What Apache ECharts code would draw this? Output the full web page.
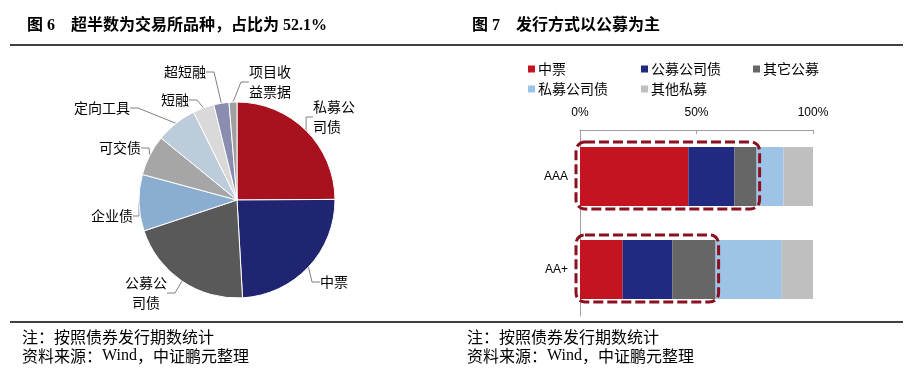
<!DOCTYPE html>
<html><head><meta charset="utf-8">
<script src="https://cdn.jsdelivr.net/npm/echarts@6/dist/echarts.min.js"></script>
<style>html,body{margin:0;padding:0;background:#fff}#c{width:910px;height:371px}</style>
</head><body><div id="c"></div>
<script>
// Pie (图6)
const pieNames = ['私募公司债','中票','公募公司债','企业债','可交债','定向工具','短融','超短融','项目收益票据'];
const pieLabels = ['私募公\n司债','中票','公募公\n司债','企业债','可交债','定向工具','短融','超短融','项目收\n益票据'];
const pieValues = [24.9, 24.2, 20.8, 9.3, 6.7, 6.8, 3.5, 2.5, 1.3];
const pieColors = ['#A8121F','#1F2570','#595959','#8AADD0','#A6A6A6','#BDCCDB','#D9D9D9','#8A8CB0','#A0A0A0'];

// Stacked bars (图7)
const ratings = ['AAA','AA+'];
const barNames = ['中票','公募公司债','其它公募','私募公司债','其他私募'];
const zhongpiao = [46.5, 18.3];
const gongmuGongsizhai = [19.7, 21.3];
const qitaGongmu = [9.6, 18.6];
const simuGongsizhai = [11.5, 28.4];
const qitaSimu = [12.7, 13.4];
const barColors = ['#C41420','#1F2A80','#666666','#9DC3E6','#BFBFBF'];
const xTicks = [0, 50, 100];

const cjk = '"Noto Sans CJK SC", sans-serif';
const serif = '"Liberation Serif", "Noto Sans CJK SC", serif';

// label placement (layout only)
const pieLabelPlace = [
  {x:313, y:117, align:'left'},
  {x:320, y:282, align:'left'},
  {x:146, y:293, align:'center'},
  {x:133, y:216, align:'right'},
  {x:141, y:148, align:'right'},
  {x:130, y:108, align:'right'},
  {x:189, y:100, align:'right'},
  {x:206, y:72,  align:'right'},
  {x:249, y:82,  align:'left'}
];

const chart = echarts.init(document.getElementById('c'), null, {renderer:'canvas'});
const barSeriesData = [zhongpiao, gongmuGongsizhai, qitaGongmu, simuGongsizhai, qitaSimu];

const noteStyle = {fontFamily:cjk, fontSize:16, fontWeight:'normal', color:'#000',
  rich:{s:{fontFamily:serif, fontSize:16, color:'#000'}}};

const option = {
  animation: false,
  backgroundColor: '#fff',
  title: [
    {text:'图 6    超半数为交易所品种，占比为 52.1%', left:22, top:13,
     textStyle:{fontFamily:serif, fontSize:16, fontWeight:'bold', color:'#000'}},
    {text:'图 7    发行方式以公募为主', left:467, top:13,
     textStyle:{fontFamily:serif, fontSize:16, fontWeight:'bold', color:'#000'}},
    {text:'注：按照债券发行期数统计', left:22, top:329, padding:0, textStyle:noteStyle},
    {text:'资料来源：{s|Wind}，中证鹏元整理', left:22, top:348, padding:0, textStyle:noteStyle},
    {text:'注：按照债券发行期数统计', left:467, top:329, padding:0, textStyle:noteStyle},
    {text:'资料来源：{s|Wind}，中证鹏元整理', left:467, top:348, padding:0, textStyle:noteStyle}
  ],
  legend: {
    left: 523, top: 54, width: 320, itemWidth: 7, itemHeight: 7, itemGap: 0,
    icon: 'rect',
    textStyle: {fontFamily: cjk, fontSize: 14, color:'#000', lineHeight: 20, padding:[0,0,0,-2]},
    data: barNames.map((n,i)=>({name:n, textStyle:{width: [103,102,70,103,102][i]}}))
  },
  grid: {left:580, right:97, top:130, bottom:55},
  xAxis: {
    type:'value', position:'top', min:0, max:100, interval:50,
    axisLine:{show:true, lineStyle:{color:'#A0A0A0', width:1}},
    axisTick:{show:true, inside:true, length:4, lineStyle:{color:'#A0A0A0'}},
    splitLine:{show:false},
    axisLabel:{formatter:(v)=> xTicks.includes(v) ? v+'%' : '', margin:11, fontFamily:'"Liberation Sans", Arial, sans-serif', fontSize:12, color:'#000'}
  },
  yAxis: {
    type:'category', data: ratings, inverse:true,
    axisLine:{show:true, lineStyle:{color:'#A0A0A0', width:1}},
    axisTick:{show:false},
    axisLabel:{margin:12, fontFamily:'"Liberation Sans", Arial, sans-serif', fontSize:12, color:'#000'}
  },
  series: [
    {
      type:'pie', center:[237,200], radius:98, startAngle:90, clockwise:true,
      avoidLabelOverlap:false, minShowLabelAngle:0,
      itemStyle:{borderColor:'#fff', borderWidth:1},
      label:{show:true, position:'outside', fontFamily:cjk, fontSize:14, color:'#000', lineHeight:20,
             formatter:(p)=>pieLabels[p.dataIndex]},
      labelLine:{show:true, length:10, length2:8, lineStyle:{color:'#808080', width:1}},
      labelLayout: (p) => {
        const q = pieLabelPlace[p.dataIndex];
        return {x:q.x, y:q.y, align:q.align, verticalAlign:'middle'};
      },
      data: pieNames.map((n,i)=>({name:n, value:pieValues[i], itemStyle:{color:pieColors[i]}}))
    }
  ].concat(barNames.map((n,i)=>({
      type:'bar', name:n, stack:'total', barWidth:59,
      itemStyle:{color:barColors[i]},
      data: barSeriesData[i]
  }))),
  graphic: [
    {type:'line', shape:{x1:10,y1:45,x2:903,y2:45}, style:{stroke:'#000', lineWidth:1.5}},
    {type:'line', shape:{x1:10,y1:322,x2:903,y2:322}, style:{stroke:'#000', lineWidth:1.5}}
  ]
};
chart.setOption(option);

// Dashed rounded boxes around the public-issuance part of each bar, computed from data
const boxes = ratings.map((r,k)=>{
  const pub = zhongpiao[k] + gongmuGongsizhai[k] + qitaGongmu[k];
  const p0 = chart.convertToPixel({gridIndex:0}, [0, k]);
  const p1 = chart.convertToPixel({gridIndex:0}, [pub, k]);
  const half = 59/2;
  return {
    type:'rect', z:100,
    shape:{x:p0[0]-4, y:p0[1]-half-5, width:(p1[0]-p0[0])+7, height:59+8, r:9},
    style:{fill:'none', stroke:'#8B1020', lineWidth:3, lineDash:[10,4]}
  };
});
chart.setOption({graphic: option.graphic.concat(boxes)});
</script>
</body></html>
